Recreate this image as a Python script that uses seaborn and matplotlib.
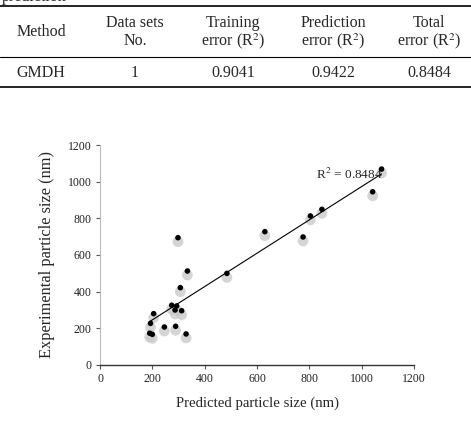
import numpy as np
import pandas as pd
import matplotlib.pyplot as plt
import matplotlib.transforms as mtransforms
from matplotlib.lines import Line2D
import seaborn as sns

# table values
table_header_1 = ["", "Data sets", "Training", "Prediction", "Total"]
table_header_2 = ["Method", "No.", "error (R$^2$)", "error (R$^2$)", "error (R$^2$)"]
table_row = ["GMDH", "1", "0.9041", "0.9422", "0.8484"]

# scatter values
predicted = [298, 334, 485, 307, 274, 293, 287, 312, 205, 193, 246, 289, 190, 200, 329,
             1076, 1042, 848, 804, 630, 776]
experimental = [694, 512, 499, 421, 325, 321, 299, 295, 279, 226, 206, 210, 172, 166, 168,
                1069, 945, 849, 813, 727, 698]
r2_label = "R$^2$ = 0.8484"

df = pd.DataFrame({"pred": predicted, "exp": experimental})

sns.set_style("white")
plt.rcParams["font.family"] = ["Liberation Serif", "DejaVu Serif"]
plt.rcParams["mathtext.fontset"] = "stix"

fig = plt.figure(figsize=(4.71, 4.22), dpi=100)
W, H = 471, 422
tfs = 11.5

# ---- table on top ----
fig.text(2 / W, 1 - (-3) / H, "prediction", fontsize=tfs, ha="left", va="center")
for y, lw in [(6, 1.2), (57, 0.8), (87, 1.2)]:
    fig.add_artist(Line2D([0, 1], [1 - y / H, 1 - y / H], color="black",
                          lw=lw, transform=fig.transFigure))
col_x = [41, 135, 233, 333, 429]
for i, cx in enumerate(col_x):
    if table_header_1[i]:
        fig.text(cx / W, 1 - 23 / H, table_header_1[i], fontsize=tfs, ha="center", va="center")
        fig.text(cx / W, 1 - 41 / H, table_header_2[i], fontsize=tfs, ha="center", va="center")
    else:
        fig.text(cx / W, 1 - 32 / H, table_header_2[i], fontsize=tfs, ha="center", va="center")
    fig.text(cx / W, 1 - 73 / H, table_row[i], fontsize=tfs, ha="center", va="center")

# ---- scatter chart ----
ax = fig.add_axes([100 / W, 57.3 / H, 314 / W, 219.6 / H])

shadow = mtransforms.offset_copy(ax.transData, fig=fig, x=0, y=-4, units="dots")
ax.scatter(df["pred"], df["exp"], s=60, color="#c8c8c8", alpha=0.75,
           edgecolor="none", transform=shadow, zorder=2)
sns.regplot(data=df, x="pred", y="exp", ax=ax, ci=None, scatter=False,
            line_kws={"color": "black", "lw": 0.8, "zorder": 3})
sns.scatterplot(data=df, x="pred", y="exp", ax=ax, color="black", s=16,
                edgecolor="none", zorder=4)

ax.text(825, 1042, r2_label, fontsize=9.5, ha="left", va="center")

ax.set_xlim(0, 1200)
ax.set_ylim(0, 1200)
ax.set_xticks(range(0, 1201, 200))
ax.set_yticks(range(0, 1201, 200))
ax.tick_params(labelsize=8.5, length=3, width=0.8, color="#555555", direction="out",
               bottom=True, left=True, pad=3, labelcolor="#222222")
for s in ["top", "right"]:
    ax.spines[s].set_visible(False)
ax.spines["left"].set_color("#bbbbbb")
ax.spines["left"].set_linewidth(0.8)
ax.spines["bottom"].set_color("#333333")
ax.spines["bottom"].set_linewidth(1.0)
ax.set_xlabel("Predicted particle size (nm)", fontsize=10.6, labelpad=8)
ax.set_ylabel("Experimental particle size (nm)", fontsize=11.8, labelpad=9)

fig.savefig("out.png", dpi=100)
